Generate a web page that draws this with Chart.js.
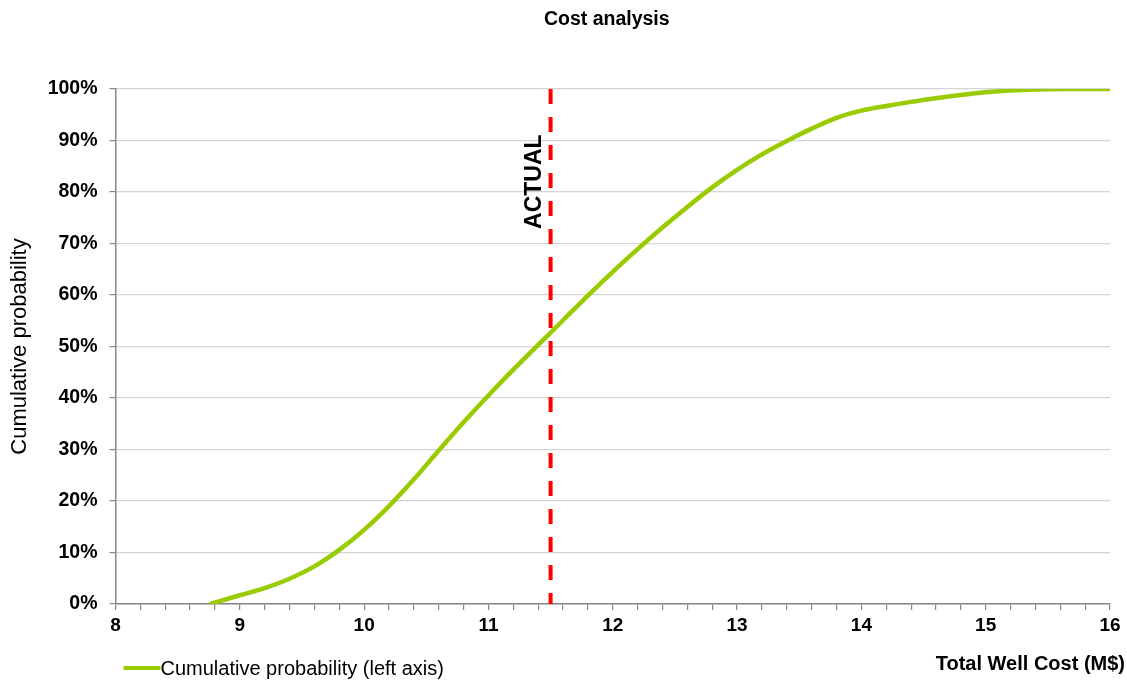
<!DOCTYPE html>
<html>
<head>
<meta charset="utf-8">
<script src="https://cdn.jsdelivr.net/npm/chart.js@4/dist/chart.umd.min.js"></script>
<style>
  html, body { margin: 0; padding: 0; background: #ffffff; }
  #wrap { width: 1127px; height: 684px; position: relative; }
</style>
</head>
<body>
<div id="wrap"><canvas id="c" width="1127" height="684"></canvas></div>
<script>
// Total well cost (M$) and the cumulative probability (%) of not exceeding it
const wellCost = [8.76, 9.0, 9.2, 9.4, 9.6, 9.8, 10.0, 10.2, 10.4, 10.6, 10.8, 11.0, 11.2, 11.4, 11.6, 11.8,
                  12.0, 12.2, 12.4, 12.6, 12.8, 13.0, 13.2, 13.4, 13.6, 13.8, 14.0, 14.2, 14.4, 14.6, 14.8,
                  15.0, 15.2, 15.4, 15.6, 16.0];
const cumulativePct = [0, 1.7, 3.1, 4.9, 7.3, 10.5, 14.4, 19.0, 24.2, 29.8, 35.3, 40.5, 45.5, 50.3, 55.1, 59.9,
                       64.5, 68.9, 73.1, 77.1, 80.9, 84.3, 87.3, 89.9, 92.3, 94.4, 95.8, 96.7, 97.5, 98.2, 98.85,
                       99.35, 99.7, 99.9, 100, 100];

// Actual well cost, marked by a dashed vertical line
const actualCost = 11.5;
const actualLabel = 'ACTUAL';

const chartTitle = 'Cost analysis';
const xAxisTitle = 'Total Well Cost (M$)';
const yAxisTitle = 'Cumulative probability';
const seriesLabel = 'Cumulative probability (left axis)';

const FONT = '"Liberation Sans", Arial, Helvetica, sans-serif';
const GREEN = '#99cc00';
const RED = '#ff0000';
const AXIS = '#868686';
const GRID = '#d4d4d4';

const curve = wellCost.map((x, i) => ({ x: x, y: cumulativePct[i] }));
const actualLine = [{ x: actualCost, y: 100 }, { x: actualCost, y: 0 }];

// Chart title, centred over the plot area
const plotTitlePlugin = {
  id: 'plotTitle',
  afterDraw(chart) {
    const { ctx, chartArea } = chart;
    ctx.save();
    ctx.font = 'bold 19.5px ' + FONT;
    ctx.fillStyle = '#000000';
    ctx.textAlign = 'center';
    ctx.textBaseline = 'middle';
    ctx.fillText(chartTitle, (chartArea.left + chartArea.right) / 2 - 6, 20);
    ctx.restore();
  }
};

// Vertical "ACTUAL" caption beside the dashed line
const actualTextPlugin = {
  id: 'actualText',
  afterDatasetsDraw(chart) {
    const { ctx, scales } = chart;
    const x = scales.x.getPixelForValue(actualCost) - 16;
    const y = scales.y.getPixelForValue(82);
    ctx.save();
    ctx.translate(x, y);
    ctx.rotate(-Math.PI / 2);
    ctx.font = 'bold 23px ' + FONT;
    ctx.fillStyle = '#000000';
    ctx.textAlign = 'center';
    ctx.textBaseline = 'middle';
    ctx.fillText(actualLabel, 0, 0);
    ctx.restore();
  }
};

// Bottom row: legend entry on the left, x axis title on the right
const bottomRowPlugin = {
  id: 'bottomRow',
  afterDraw(chart) {
    const { ctx, chartArea } = chart;
    const ds = chart.data.datasets[0];
    const rowY = chart.height - 16;
    ctx.save();
    ctx.strokeStyle = ds.borderColor;
    ctx.lineWidth = 4;
    ctx.beginPath();
    ctx.moveTo(chartArea.left + 8, rowY);
    ctx.lineTo(chartArea.left + 45, rowY);
    ctx.stroke();
    ctx.font = '20px ' + FONT;
    ctx.fillStyle = '#000000';
    ctx.textAlign = 'left';
    ctx.textBaseline = 'middle';
    ctx.fillText(ds.label, chartArea.left + 45, rowY + 1);

    ctx.font = 'bold 20px ' + FONT;
    ctx.textAlign = 'right';
    ctx.fillText(xAxisTitle, chart.width - 2, rowY - 4);
    ctx.restore();
  }
};

new Chart(document.getElementById('c'), {
  type: 'line',
  data: {
    datasets: [
      {
        label: seriesLabel,
        data: curve,
        borderColor: GREEN,
        backgroundColor: GREEN,
        borderWidth: 4.5,
        pointRadius: 0,
        cubicInterpolationMode: 'monotone',
        fill: false
      },
      {
        label: actualLabel,
        data: actualLine,
        borderColor: RED,
        backgroundColor: RED,
        borderWidth: 4,
        borderDash: [15, 13],
        pointRadius: 0,
        fill: false
      }
    ]
  },
  options: {
    responsive: false,
    animation: false,
    devicePixelRatio: 1,
    layout: { padding: { left: 0, right: 17, top: 89, bottom: 45 } },
    plugins: {
      legend: { display: false },
      tooltip: { enabled: false },
      title: { display: false }
    },
    scales: {
      x: {
        type: 'linear',
        min: 8,
        max: 16,
        border: { display: true, color: AXIS, width: 1.5 },
        grid: { drawOnChartArea: false, drawTicks: true, tickLength: 6, tickColor: AXIS, lineWidth: 1.2 },
        ticks: {
          stepSize: 0.2,
          autoSkip: false,
          maxTicksLimit: 100,
          maxRotation: 0,
          padding: 4,
          color: '#000000',
          font: { family: FONT, size: 19, weight: 'bold' },
          callback: (v) => Math.abs(v - Math.round(v)) < 1e-6 ? String(Math.round(v)) : ''
        },
        afterFit: (s) => { s.height = 35; }
      },
      y: {
        type: 'linear',
        min: 0,
        max: 100,
        border: { display: true, color: AXIS, width: 1.5 },
        grid: { color: GRID, lineWidth: 1.2, drawTicks: true, tickLength: 6, tickColor: AXIS },
        ticks: {
          stepSize: 10,
          padding: 12,
          color: '#000000',
          font: { family: FONT, size: 19.5, weight: 'bold' },
          callback: (v) => v + '%'
        },
        title: {
          display: true,
          text: yAxisTitle,
          color: '#000000',
          font: { family: FONT, size: 22 },
          padding: { top: 7, bottom: 0 }
        },
        afterFit: (s) => { s.width = 115.5; }
      }
    }
  },
  plugins: [plotTitlePlugin, actualTextPlugin, bottomRowPlugin]
});
</script>
</body>
</html>
